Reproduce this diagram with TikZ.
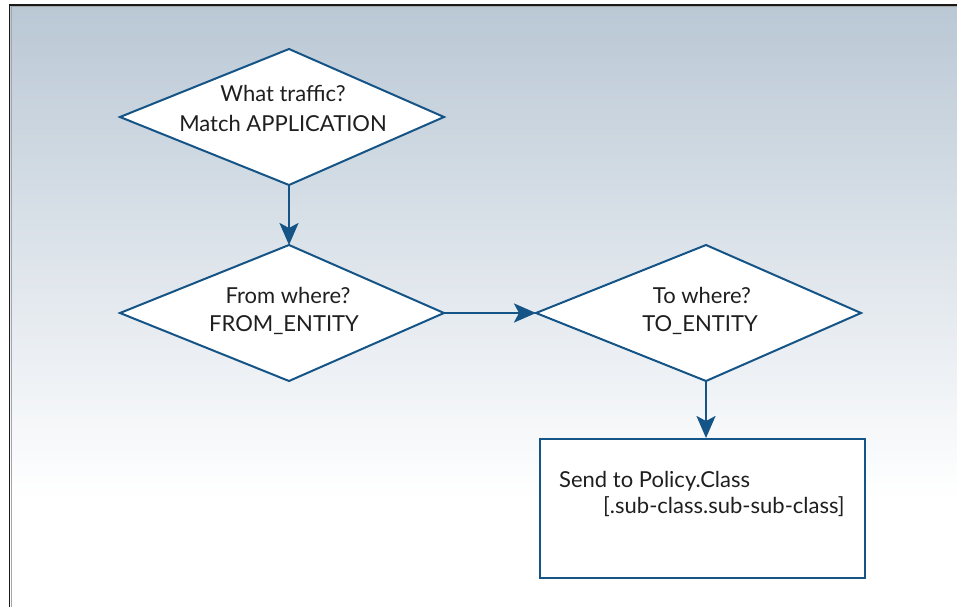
\documentclass[tikz,border=0pt]{standalone}
\usepackage{fontspec}
\setmainfont{Lato}
\usetikzlibrary{arrows.meta}
\definecolor{flow}{RGB}{20,84,134}
\definecolor{bgtop}{RGB}{186,200,213}
\definecolor{frameline}{RGB}{25,25,25}
\tikzset{
  decision/.style={draw=flow, fill=white, line width=2pt, line join=miter},
  flowarrow/.style={draw=flow, line width=2.6pt, -{Stealth[length=22pt,width=19pt,inset=5pt]}},
  label/.style={anchor=base, inner sep=0pt, font=\fontsize{22}{28}\selectfont, text=black!88},
  boxlabel/.style={anchor=base west, inner sep=0pt, font=\fontsize{22}{28}\selectfont, text=black!88},
  actionbox/.style={draw=flow, fill=white, line width=2pt, minimum width=325pt, minimum height=139pt, inner sep=0pt}
}
\begin{document}
\begin{tikzpicture}[x=1pt,y=-1pt]
\useasboundingbox (0,0) rectangle (957,607);
\fill[white] (0,0) rectangle (957,607);
\foreach \i in {0,...,97}{
  \pgfmathsetmacro{\pct}{100-\i*100/98}
  \fill[bgtop!\pct!white] (9,{5+5*\i}) rectangle (957,{10.6+5*\i});
}
\draw[frameline, line width=1.6pt] (9.5,607) -- (9.5,5) -- (957,5);
\draw[gray!70, line width=0.6pt] (11,607) -- (11,6.8) -- (957,6.8);
% decision 1
\coordinate (d1l) at (120,117);
\coordinate (d1t) at (289,49);
\coordinate (d1r) at (444,117);
\coordinate (d1b) at (289,185);
\draw[decision] (d1l) -- (d1t) -- (d1r) -- (d1b) -- cycle;
\node[label] (t1a) at (283,102) {What traffic?};
\node[label] (t1b) at (283,131) {Match APPLICATION};
% decision 2
\coordinate (d2l) at (120,313);
\coordinate (d2t) at (289,245);
\coordinate (d2r) at (444,313);
\coordinate (d2b) at (289,381);
\draw[decision] (d2l) -- (d2t) -- (d2r) -- (d2b) -- cycle;
\node[label] (t2a) at (288,303) {From where?};
\node[label] (t2b) at (284,331) {FROM\_ENTITY};
% decision 3
\coordinate (d3l) at (536,313);
\coordinate (d3t) at (706,245);
\coordinate (d3r) at (861,313);
\coordinate (d3b) at (706,381);
\draw[decision] (d3l) -- (d3t) -- (d3r) -- (d3b) -- cycle;
\node[label] (t3a) at (702,303) {To where?};
\node[label] (t3b) at (700,331) {TO\_ENTITY};
% action box
\node[actionbox] (send) at (702.5,508.5) {};
\node[boxlabel] (t4a) at (559,487) {Send to Policy.Class};
\node[boxlabel] (t4b) at (603,513) {[.sub-class.sub-sub-class]};
% connectors
\draw[flowarrow] (d1b) -- (d2t);
\draw[flowarrow] (d2r) -- (d3l);
\draw[flowarrow] (d3b) -- (send.north -| d3b);
\end{tikzpicture}
\end{document}
